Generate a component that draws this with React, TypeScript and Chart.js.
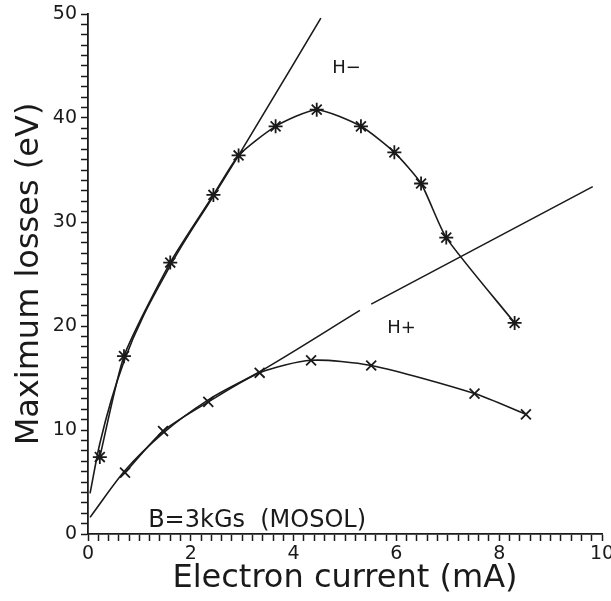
import React, { useEffect, useRef } from 'react';
import { Chart, registerables } from 'chart.js';

Chart.register(...registerables);

// Axis ranges
const xMin = 0;
const xMax = 10;
const yMin = 0;
const yMax = 50;
const xMajorLabels = [0, 2, 4, 6, 8, 10];
const yMajorLabels = [0, 10, 20, 30, 40, 50];

// H- measured points (asterisks)
const hMinusX = [0.23, 0.7, 1.6, 2.44, 2.93, 3.65, 4.45, 5.31, 5.96, 6.48, 6.97, 8.3];
const hMinusY = [7.4, 17.1, 26.1, 32.6, 36.4, 39.2, 40.8, 39.2, 36.7, 33.7, 28.5, 20.3];

// H+ measured points (crosses)
const hPlusX = [0.72, 1.46, 2.34, 3.34, 4.34, 5.51, 7.52, 8.52];
const hPlusY = [5.9, 9.9, 12.7, 15.5, 16.7, 16.2, 13.5, 11.5];

// H- reference curve
const hMinusFitX = [0.04, 0.23, 0.7, 1.6, 2.44, 2.93, 4.53];
const hMinusFitY = [3.9, 8.7, 16.6, 25.8, 32.5, 36.4, 49.6];

// H+ reference curve (broken near 5.4)
const hPlusFitX = [0.04, 0.72, 1.46, 2.34, 3.34, 5.29, 5.4, 5.51, 9.82];
const hPlusFitY: (number | null)[] = [1.6, 6.1, 9.7, 12.9, 15.6, 21.5, null, 22.1, 33.4];

// Text labels
const labelTexts = ['H\u2212', 'H+', 'B=3kGs  (MOSOL)'];
const labelX = [4.75, 5.82, 1.17];
const labelY = [44.3, 19.3, 0.7];

const FONT = "'DejaVu Sans', sans-serif";
const INK = '#1a1a1a';

const zip = (xs: number[], ys: (number | null)[]) => xs.map((x, i) => ({ x, y: ys[i] }));

const near = (v: number, list: number[]) => list.some((m) => Math.abs(v - m) < 1e-6);

const textPlugin = {
  id: 'textLabels',
  afterDatasetsDraw(chart: any) {
    const { ctx, scales } = chart;
    ctx.save();
    ctx.fillStyle = INK;
    ctx.textBaseline = 'alphabetic';
    ctx.textAlign = 'left';
    labelTexts.forEach((t, i) => {
      ctx.font = i === 2 ? `24px ${FONT}` : `18px ${FONT}`;
      ctx.fillText(t, scales.x.getPixelForValue(labelX[i]), scales.y.getPixelForValue(labelY[i]));
    });
    ctx.restore();
  },
};

export default function App() {
  const ref = useRef<HTMLCanvasElement>(null);
  useEffect(() => {
    const canvas = ref.current!;
    const lineDs = (label: string, data: any[], extra: any = {}) => ({
      label,
      data,
      showLine: true,
      borderColor: INK,
      backgroundColor: INK,
      borderWidth: 1.6,
      pointRadius: 0,
      spanGaps: false,
      ...extra,
    });
    const chart = new Chart(canvas, {
      type: 'scatter',
      data: {
        datasets: [
          lineDs('H- fit', zip(hMinusFitX, hMinusFitY), { cubicInterpolationMode: 'monotone' }),
          lineDs('H+ fit', zip(hPlusFitX, hPlusFitY), { cubicInterpolationMode: 'monotone' }),
          lineDs('H-', zip(hMinusX, hMinusY), {
            tension: 0.2,
            pointStyle: 'star',
            pointRadius: 7,
            pointBorderWidth: 1.8,
            pointBorderColor: INK,
          }),
          lineDs('H+', zip(hPlusX, hPlusY), {
            tension: 0.25,
            pointStyle: 'crossRot',
            pointRadius: 7,
            pointBorderWidth: 1.8,
            pointBorderColor: INK,
          }),
        ],
      },
      options: {
        responsive: false,
        animation: false,
        devicePixelRatio: 1,
        layout: { padding: { top: 14, right: 9, left: 0, bottom: 0 } },
        plugins: { legend: { display: false }, tooltip: { enabled: false } },
        scales: {
          x: {
            type: 'linear',
            min: xMin,
            max: xMax,
            afterFit(s: any) {
              s.height = 67;
              s.paddingLeft = 0;
              s.paddingRight = 0;
            },
            border: { display: true, color: INK, width: 1.8 },
            grid: {
              drawOnChartArea: false,
              drawTicks: true,
              tickLength: 7,
              tickColor: INK,
              tickWidth: 1.5,
            },
            ticks: {
              stepSize: 0.2,
              autoSkip: false,
              maxTicksLimit: 100,
              maxRotation: 0,
              color: INK,
              padding: 2,
              font: { family: FONT, size: 19 },
              callback: (v: any) => (near(Number(v), xMajorLabels) ? String(Math.round(Number(v))) : ''),
            },
            title: {
              display: true,
              text: 'Electron current (mA)',
              color: INK,
              font: { family: FONT, size: 32 },
              padding: { top: 0, bottom: 3 },
            },
          },
          y: {
            type: 'linear',
            min: yMin,
            max: yMax,
            afterFit(s: any) {
              s.width = 88;
              s.paddingTop = 0;
              s.paddingBottom = 0;
            },
            border: { display: true, color: INK, width: 1.8 },
            grid: {
              drawOnChartArea: false,
              drawTicks: true,
              tickLength: 7,
              tickColor: INK,
              tickWidth: 1.5,
            },
            ticks: {
              stepSize: 1,
              autoSkip: false,
              maxTicksLimit: 100,
              color: INK,
              padding: 4,
              font: { family: FONT, size: 19 },
              callback: (v: any) => (near(Number(v), yMajorLabels) ? String(Math.round(Number(v))) : ''),
            },
            title: {
              display: true,
              text: 'Maximum losses (eV)',
              color: INK,
              font: { family: FONT, size: 32 },
              padding: { top: 10, bottom: 0 },
            },
          },
        },
      },
      plugins: [textPlugin],
    } as any);
    return () => chart.destroy();
  }, []);
  return (
    <div style={{ position: 'fixed', left: 0, top: 0, width: 611, height: 601, background: '#fff' }}>
      <canvas ref={ref} width={611} height={601} style={{ display: 'block' }} />
    </div>
  );
}
